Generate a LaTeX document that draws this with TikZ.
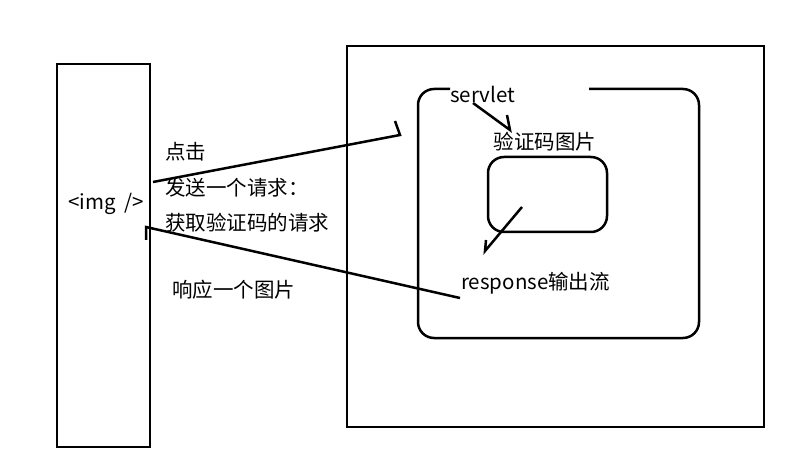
\documentclass[tikz,border=0pt]{standalone}
\usepackage{fontspec}
\setmainfont{Noto Sans CJK SC}

\begin{document}
\begin{tikzpicture}[x=1pt, y=-1pt,
    pen/.style={line width=2.5pt},
    txt/.style={inner sep=0pt, font=\fontsize{20.5}{24}\selectfont}]
    \useasboundingbox (0,0) rectangle (808,470);
    % boxes
    \node[pen, draw, minimum width=93pt, minimum height=383pt, inner sep=0pt] (page) at (103.5,255.5) {};
    \node[pen, draw, minimum width=417pt, minimum height=381pt, inner sep=0pt] (server) at (555.5,236.5) {};
    \node[pen, draw, rounded corners=16pt, minimum width=119pt, minimum height=75pt, inner sep=0pt] (pic) at (547.5,194.5) {};
    \draw[pen, rounded corners=16pt] (450,89) -- (418,89) -- (418,338) -- (699,338) -- (699,89) -- (589,89);
    % texts
    \node[txt] (img) at (106,204) {<img\hspace{8pt}/>};
    \node[txt, anchor=west] (click) at (165,152) {点击};
    \node[txt, anchor=west] (send) at (165,188) {发送一个请求：};
    \node[txt, anchor=west] (get) at (165,223) {获取验证码的请求};
    \node[txt, anchor=west] (reply) at (172,290) {响应一个图片};
    \node[txt, anchor=west] (servlet) at (450,94) {servlet};
    \node[txt] (code) at (545,142) {验证码图片};
    \node[txt, anchor=west] (stream) at (461,283) {response输出流};
    % hand drawn arrows
    \coordinate (req from) at (153,182);
    \coordinate (req to) at (400,135);
    \coordinate (req hook) at (395,121);
    \draw[pen] (req from) -- (req to) -- (req hook);
    \coordinate (resp from) at (460,298);
    \coordinate (resp to) at (146,227);
    \coordinate (resp hook) at (146,240);
    \draw[pen] (resp from) -- (resp to) -- (resp hook);
    \coordinate (gen from) at (473,103);
    \coordinate (gen to) at (510,130);
    \coordinate (gen hook) at (507,115);
    \draw[pen] (gen from) -- (gen to) -- (gen hook);
    \coordinate (out from) at (522,207);
    \coordinate (out to) at (485,251);
    \coordinate (out hook) at (486,240);
    \draw[pen] (out from) -- (out to) -- (out hook);
\end{tikzpicture}
\end{document}
